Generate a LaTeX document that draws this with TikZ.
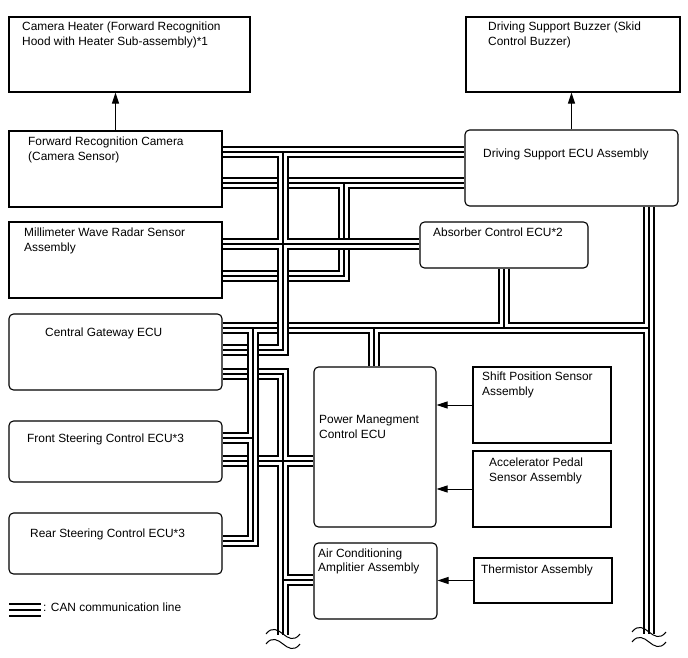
\documentclass[tikz,border=0pt]{standalone}
\usepackage{fontspec}
\setmainfont{Liberation Sans}
\usetikzlibrary{arrows.meta,fit}
\pgfdeclarelayer{bg}
\pgfsetlayers{bg,main}
\newcommand\canbus[1]{\draw[busK] #1; \draw[busW] #1; \draw[busC] #1;}
\newcommand\tlines[2]{\parbox[t]{260pt}{\raggedright #1\\#2}}
\newcommand\brkmark[2]{\draw[brk] (#1-17,#2) .. controls (#1-11,#2-8) and (#1-5,#2-4) .. (#1,#2) .. controls (#1+5,#2+4) and (#1+11,#2+8) .. (#1+17,#2);}
\begin{document}
\begin{tikzpicture}[x=1pt,y=-1pt,
 sqbox/.style={draw, line width=1.1pt, inner sep=0pt},
 rbox/.style={sqbox, rounded corners=4.5pt},
 lbl/.style={anchor=base west, inner sep=0pt, font=\fontsize{11.9}{14.5}\selectfont},
 busK/.style={line width=12.6pt, black, line join=miter, line cap=butt},
 busW/.style={line width=8.8pt, white, line join=miter, line cap=butt},
 busC/.style={line width=1.7pt, black, line join=miter, line cap=butt},
 legK/.style={line width=14pt, black, line cap=butt},
 legW/.style={line width=10.4pt, white, line cap=butt},
 legC/.style={line width=1.8pt, black, line cap=butt},
 arr/.style={line width=1pt, -{Triangle[length=11pt,width=7pt]}},
 brk/.style={line width=1pt}]
\begin{pgfonlayer}{bg}
\fill[white] (0,0) rectangle (688,658);
\end{pgfonlayer}
\useasboundingbox (0,0) rectangle (688,658);
% boxes
\node[sqbox, fit={(9,17) (250,92)}] (ch) {};
\node[sqbox, fit={(9,131) (222,207)}] (frc) {};
\node[sqbox, fit={(9,222) (222,298)}] (mwr) {};
\node[rbox, fit={(9,314) (222,390)}] (cgw) {};
\node[rbox, fit={(9,421) (222,482)}] (fsc) {};
\node[rbox, fit={(9,513) (222,574)}] (rsc) {};
\node[sqbox, fit={(466,17) (680,92)}] (buz) {};
\node[rbox, fit={(465,130) (678,206)}] (dse) {};
\node[rbox, fit={(420,222) (588,268)}] (abs) {};
\node[rbox, fit={(314,367) (436,527)}] (pmc) {};
\node[sqbox, fit={(473,367) (611,443)}] (sps) {};
\node[sqbox, fit={(473,451) (611,527)}] (aps) {};
\node[rbox, fit={(314,543) (437,619)}] (ac) {};
\node[sqbox, fit={(474,558) (612,603)}] (th) {};
\coordinate (endL) at (283,635);
\coordinate (endR) at (649,634);
% texts
\node[lbl] (tch) at (22,31) {\tlines{Camera Heater (Forward Recognition}{Hood with Heater Sub-assembly)*1}};
\node[lbl] (tfrc) at (28,146) {\tlines{Forward Recognition Camera}{(Camera Sensor)}};
\node[lbl] (tmwr) at (24,236.5) {\tlines{Millimeter Wave Radar Sensor}{Assembly}};
\node[lbl] (tcgw) at (45,336.5) {Central Gateway ECU};
\node[lbl] (tfsc) at (27,442.5) {Front Steering Control ECU*3};
\node[lbl] (trsc) at (30,537.5) {Rear Steering Control ECU*3};
\node[lbl] (tbuz) at (488,31) {\tlines{Driving Support Buzzer (Skid}{Control Buzzer)}};
\node[lbl] (tdse) at (483,157.5) {Driving Support ECU Assembly};
\node[lbl] (tabs) at (433,236.5) {Absorber Control ECU*2};
\node[lbl] (tpmc) at (319,423.5) {\tlines{Power Manegment}{Control ECU}};
\node[lbl] (tsps) at (482,380.5) {\tlines{Shift Position Sensor}{Assembly}};
\node[lbl] (taps) at (489,466.5) {\tlines{Accelerator Pedal}{Sensor Assembly}};
\node[lbl] (tac) at (318,557) {\tlines{Air Conditioning}{Amplitier Assembly}};
\node[lbl] (tth) at (481,573.5) {Thermistor Assembly};
\node[lbl] (tleg) at (43,611) {: CAN communication line};
% arrows
\draw[arr] (frc.north) -- (frc.north |- ch.south);
\draw[arr] (dse.north) -- (dse.north |- buz.south);
\draw[arr] (sps.west) -- (sps.west -| pmc.east);
\draw[arr] (aps.west) -- (aps.west -| pmc.east);
\draw[arr] (th.west) -- (th.west -| ac.east);
% CAN buses
\begin{pgfonlayer}{bg}
% private bus (FRC, MWR, DSE)
\canbus{(frc.east |- 0,183) -- (dse.west |- 0,183) (344,183) -- (344,276) -- (mwr.east |- 0,276)}
% lower trunk
\canbus{(cgw.east |- 0,374) -- (283,374) -- (endL) (fsc.east |- 0,461) -- (pmc.west |- 0,461) (283,580) -- (ac.west |- 0,580)}
% upper trunk
\canbus{(frc.east |- 0,152) -- (dse.west |- 0,152) (283,152) -- (283,350) -- (cgw.east |- 0,350) (mwr.east |- 0,244) -- (abs.west |- 0,244)}
% chassis bus
\canbus{(cgw.east |- 0,328) -- (649,328) (dse.south -| 649,0) -- (endR) (abs.south -| 504,0) -- (504,328) (374,328) -- (pmc.north -| 374,0) (253,328) -- (253,541) -- (rsc.east |- 0,541) (fsc.east |- 0,438) -- (253,438)}
% upper trunk passes over chassis bus
\canbus{(283,317) -- (283,339)}
% legend
\draw[legK] (9,610) -- (41,610);
\draw[legW] (9,610) -- (41,610);
\draw[legC] (9,610) -- (41,610);
\end{pgfonlayer}
% break marks
\brkmark{283}{634}
\brkmark{283}{644}
\brkmark{649}{632}
\brkmark{649}{642}
\end{tikzpicture}
\end{document}
